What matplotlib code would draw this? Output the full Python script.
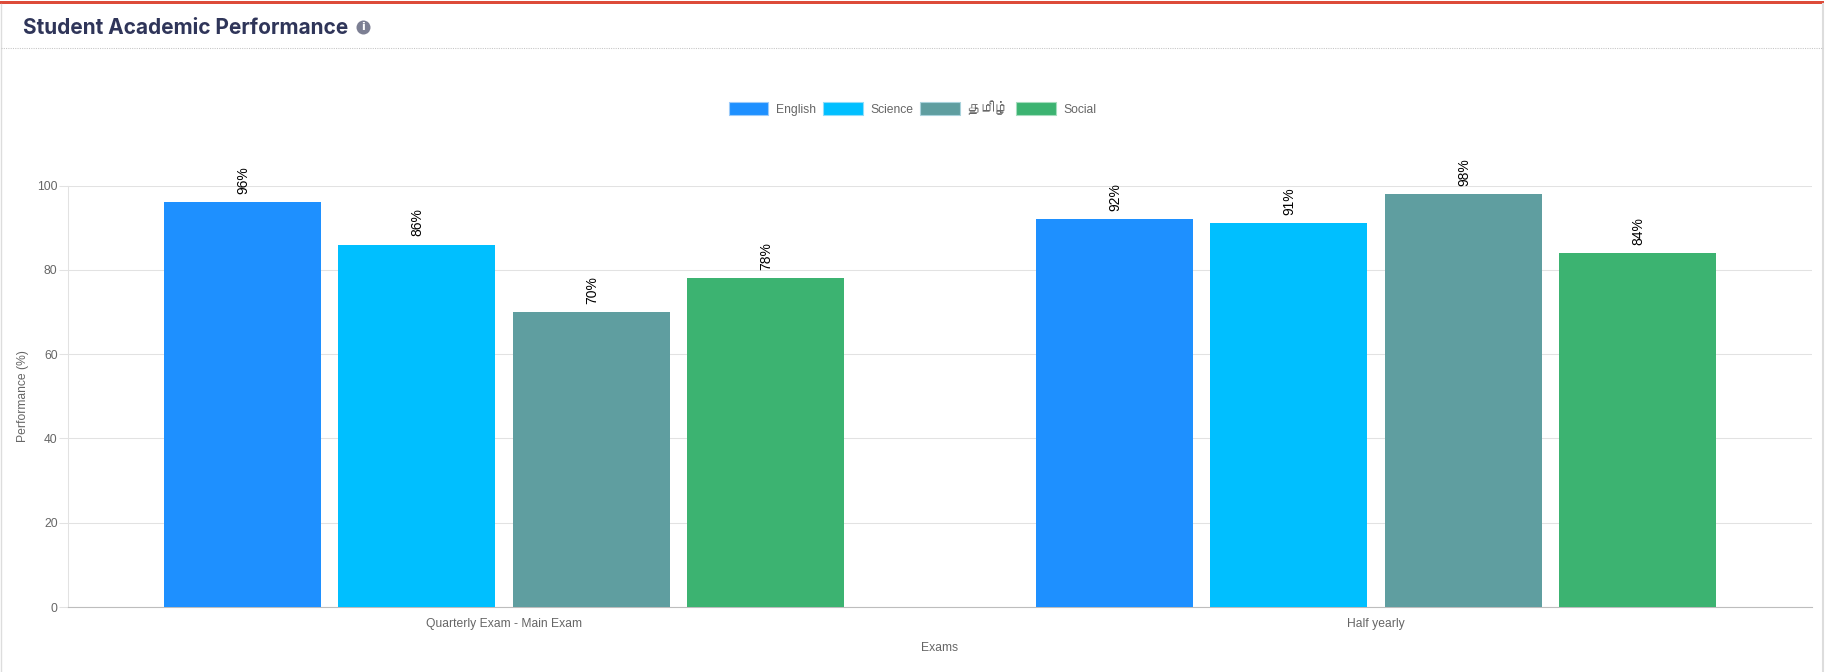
import matplotlib
matplotlib.use("Agg")
import numpy as np
import matplotlib.pyplot as plt
from matplotlib import font_manager
from matplotlib.lines import Line2D
from matplotlib.patches import Circle, Patch, Rectangle

exams = ["Quarterly Exam - Main Exam", "Half yearly"]
subjects = ["English", "Science", "தமிழ்", "Social"]
scores = [
    [96, 92],
    [86, 91],
    [70, 98],
    [78, 84],
]
colors = ["#1E90FF", "#00BFFF", "#5F9EA0", "#3CB371"]
edge_colors = ["#9CCBFA", "#8FDDFA", "#A9D3DC", "#A5DDBE"]
y_ticks = [0, 20, 40, 60, 80, 100]

W, H = 1825, 672


# look for an installed font that can draw the Tamil legend label
def find_tamil_font():
    for f in font_manager.fontManager.ttflist:
        try:
            if 0x0BA4 in font_manager.get_font(f.fname).get_charmap():
                return f.name
        except Exception:
            pass
    return None


tamil_font = find_tamil_font()
base_fonts = ["Liberation Sans", "DejaVu Sans"]
plt.rcParams["font.family"] = base_fonts

fig = plt.figure(figsize=(W / 100, H / 100), dpi=100)

# card frame, red top strip and dotted header rule
overlay = fig.add_axes([0, 0, 1, 1], zorder=5)
overlay.set_xlim(0, W)
overlay.set_ylim(H, 0)
overlay.axis("off")
overlay.add_patch(Rectangle((0, 1), W - 1, 3, color="#DD4B39", lw=0))
overlay.add_line(Line2D([0.5, 0.5], [4, H], color="#DDDDDD", lw=1))
overlay.add_line(Line2D([W - 1.5, W - 1.5], [4, H], color="#DDDDDD", lw=1.5))
overlay.add_line(Line2D([1, W - 2], [48, 48], color="#C4C4C4", lw=0.75, ls=(0, (1, 1.2))))

overlay.text(23, 28, "Student Academic Performance", fontsize=15, fontweight="bold",
             family=["Inter", "DejaVu Sans"], color="#2F3559", va="center", ha="left")
overlay.add_patch(Circle((363.5, 27.5), 7, color="#7C7F93", lw=0))
overlay.text(363.5, 27.5, "i", fontsize=8, fontweight="bold", family="DejaVu Sans", color="white",
             va="center", ha="center")

ax = fig.add_axes([68 / W, 1 - 607 / H, (1812 - 68) / W, (607 - 185.5) / H])

# two groups, each bar slot is a quarter of 80% of the group
n = len(subjects)
x = np.arange(len(exams))
slot = 0.8 / n
bar_width = slot * 0.9

for i, subject in enumerate(subjects):
    pos = x - 0.4 + slot * (i + 0.5)
    ax.bar(pos, scores[i], width=bar_width, color=colors[i], zorder=3)
    for px, val in zip(pos, scores[i]):
        ax.annotate(f"{val}%", (px, val), xytext=(0.5, 6), textcoords="offset points",
                    rotation=90, ha="center", va="bottom", fontsize=10,
                    color="black", annotation_clip=False, zorder=4)

ax.set_xlim(-0.5, 1.5)
ax.set_ylim(0, 100)
ax.set_xticks(x, exams)
ax.set_yticks(y_ticks)
ax.grid(axis="y", color="#E2E2E2", lw=0.75, zorder=0)
ax.set_axisbelow(True)
ax.tick_params(axis="x", length=0, pad=8, labelsize=8.7, labelcolor="#666666")
ax.tick_params(axis="y", length=6.5, width=0.75, color="#E2E2E2", pad=1, labelsize=8.7, labelcolor="#666666")
for side in ["top", "right"]:
    ax.spines[side].set_visible(False)
ax.spines["left"].set_color("#E2E2E2")
ax.spines["left"].set_linewidth(0.75)
ax.spines["bottom"].set_color("#BDBDBD")

fig.text(23 / W, 1 - 396 / H, "Performance (%)", rotation=90, fontsize=8.7, color="#666666",
         ha="center", va="center")
fig.text(940 / W, 1 - 648 / H, "Exams", fontsize=8.7, color="#666666", ha="center", va="center")

handles = [Patch(facecolor=c, edgecolor=e, lw=0.8) for c, e in zip(colors, edge_colors)]
leg = fig.legend(handles, subjects, loc="center", bbox_to_anchor=(912.5 / W, 1 - 108 / H),
                 ncol=n, frameon=False, fontsize=8.7, labelcolor="#666666",
                 handlelength=3.3, handleheight=1.35, handletextpad=0.6, columnspacing=0.6)
if tamil_font:
    leg.get_texts()[2].set_fontfamily([tamil_font] + base_fonts)
    leg.get_texts()[2].set_fontsize(10)

fig.savefig("out.png", dpi=100)
